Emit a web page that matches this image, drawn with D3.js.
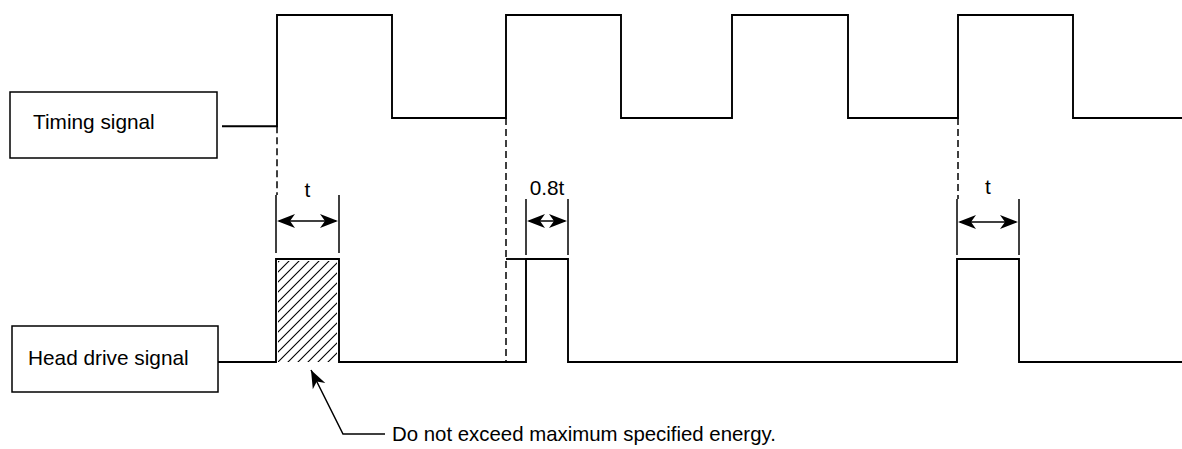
<!DOCTYPE html>
<html>
<head>
<meta charset="utf-8">
<script src="https://cdnjs.cloudflare.com/ajax/libs/d3/7.8.5/d3.min.js"></script>
<style>
  html, body { margin: 0; padding: 0; background: #fff; }
  svg text { font-family: "Liberation Sans", Arial, Helvetica, sans-serif; fill: #000; }
</style>
</head>
<body>
<div id="chart"></div>
<script>
// timing signal: step points (time, level); level -0.08 = initial idle level
var timingTimes  = [22.2, 27.7, 39.2, 50.6, 62.1, 73.2, 84.8, 95.8, 107.3, 118.2];
var timingLevels = [-0.08, 1,   0,    1,    0,    1,    0,    1,    0,     0];

// head drive signal: step points
var headTimes  = [21.8, 27.6, 33.9, 52.6, 56.8, 95.7, 101.9, 118.2];
var headLevels = [0,    1,    0,    1,    0,    1,    0,     0];
// short top stub where the 2nd pulse starts before its rise
var headStub = [50.6, 52.6];

// dimensioned pulse widths
var dimStart  = [27.6, 52.6, 95.7];
var dimEnd    = [33.9, 56.8, 101.9];
var dimLabels = ["t", "0.8t", "t"];

// dashed guide lines from timing rise edges
var guideTimes = [27.7, 50.6, 95.8];

var signalLabels = ["Timing signal", "Head drive signal"];
var noteText = "Do not exceed maximum specified energy.";

var width = 1182, height = 449;

var svg = d3.select("#chart").append("svg")
  .attr("width", width)
  .attr("height", height);

var x = d3.scaleLinear().domain([0, 118.2]).range([0, 1182]);
var yT = d3.scaleLinear().domain([0, 1]).range([118, 15]);
var yH = d3.scaleLinear().domain([0, 1]).range([362, 259]);

// hatch pattern
var defs = svg.append("defs");
defs.append("pattern")
  .attr("id", "hatch")
  .attr("patternUnits", "userSpaceOnUse")
  .attr("width", 10).attr("height", 10)
  .append("path")
  .attr("d", "M0,10 L10,0 M-2,2 L2,-2 M8,12 L12,8")
  .attr("stroke", "#000")
  .attr("stroke-width", 1.1);

// hatched first pulse
svg.append("rect")
  .attr("x", x(dimStart[0]) + 2)
  .attr("y", yH(1) + 2)
  .attr("width", x(dimEnd[0]) - x(dimStart[0]) - 4)
  .attr("height", yH(0) - yH(1) - 2)
  .attr("fill", "url(#hatch)");

// label boxes
var boxes = [
  { x: 10, y: 92, w: 207, h: 66, tx: 33, ty: 129 },
  { x: 12, y: 326, w: 206, h: 66, tx: 28, ty: 365 }
];
boxes.forEach(function(b, i) {
  svg.append("rect")
    .attr("x", b.x).attr("y", b.y)
    .attr("width", b.w).attr("height", b.h)
    .attr("fill", "none").attr("stroke", "#000").attr("stroke-width", 1.5);
  svg.append("text")
    .attr("x", b.tx).attr("y", b.ty)
    .style("font-size", "20.8px")
    .text(signalLabels[i]);
});

var stepLine = function(ys) {
  return d3.line()
    .x(function(d) { return x(d[0]); })
    .y(function(d) { return ys(d[1]); })
    .curve(d3.curveStepAfter);
};

var timingData = timingTimes.map(function(t, i) { return [t, timingLevels[i]]; });
var headData = headTimes.map(function(t, i) { return [t, headLevels[i]]; });

svg.append("path")
  .attr("d", stepLine(yT)(timingData))
  .attr("fill", "none").attr("stroke", "#000").attr("stroke-width", 1.9);

svg.append("path")
  .attr("d", stepLine(yH)(headData))
  .attr("fill", "none").attr("stroke", "#000").attr("stroke-width", 1.9);

svg.append("line")
  .attr("x1", x(headStub[0])).attr("x2", x(headStub[1]))
  .attr("y1", yH(1)).attr("y2", yH(1))
  .attr("stroke", "#000").attr("stroke-width", 1.9);

// dashed guides
var guideEnds = [195, 362, 199];
guideTimes.forEach(function(t, i) {
  var ti = timingTimes.indexOf(t);
  svg.append("line")
    .attr("x1", x(t)).attr("x2", x(t))
    .attr("y1", yT(timingLevels[ti - 1])).attr("y2", guideEnds[i])
    .attr("stroke", "#000").attr("stroke-width", 1.5)
    .attr("stroke-dasharray", "7,4");
});

// arrowhead polygon pointing along angle a, tip at (tx, ty)
function arrowHead(tx, ty, a, len, hw, notch) {
  var c = Math.cos(a), s = Math.sin(a);
  function p(u, v) { return [tx - u * c - v * s, ty - u * s + v * c]; }
  var pts = [p(0, 0), p(len, -hw), p(notch, 0), p(len, hw)];
  return "M" + pts.map(function(q) { return q[0].toFixed(1) + "," + q[1].toFixed(1); }).join("L") + "Z";
}

// dimension markers
var dimTop = [195, 199, 199], dimBot = [253, 255, 255], dimY = [221, 221, 222], labelY = [197, 195, 194];
dimStart.forEach(function(t0, i) {
  var x0 = x(t0), x1 = x(dimEnd[i]);
  var g = svg.append("g");
  [x0, x1].forEach(function(xx) {
    g.append("line")
      .attr("x1", xx).attr("x2", xx)
      .attr("y1", dimTop[i]).attr("y2", dimBot[i])
      .attr("stroke", "#000").attr("stroke-width", 1.5);
  });
  g.append("line")
    .attr("x1", x0 + 3).attr("x2", x1 - 3)
    .attr("y1", dimY[i]).attr("y2", dimY[i])
    .attr("stroke", "#000").attr("stroke-width", 1.5);
  g.append("path").attr("d", arrowHead(x0 + 1, dimY[i], Math.PI, 18, 7, 13)).attr("fill", "#000");
  g.append("path").attr("d", arrowHead(x1 - 1, dimY[i], 0, 18, 7, 13)).attr("fill", "#000");
  g.append("text")
    .attr("x", (x0 + x1) / 2).attr("y", labelY[i])
    .attr("text-anchor", "middle")
    .style("font-size", "20.8px")
    .text(dimLabels[i]);
});

// note with leader arrow
var tip = [311, 370], elbow = [343, 434], lineEnd = 385;
svg.append("path")
  .attr("d", "M" + tip + "L" + elbow + "L" + [lineEnd, elbow[1]])
  .attr("fill", "none").attr("stroke", "#000").attr("stroke-width", 1.5);
var ang = Math.atan2(tip[1] - elbow[1], tip[0] - elbow[0]);
svg.append("path").attr("d", arrowHead(tip[0], tip[1], ang, 18, 7, 13)).attr("fill", "#000");
svg.append("text")
  .attr("x", 392).attr("y", elbow[1] + 7)
  .style("font-size", "20.4px")
  .text(noteText);
</script>
</body>
</html>
